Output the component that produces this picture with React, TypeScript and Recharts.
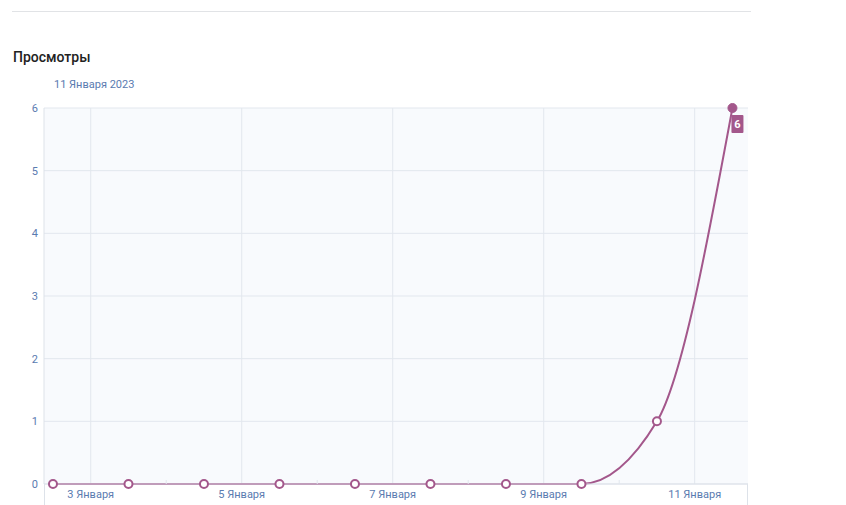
import React from 'react';
import { LineChart, Line, XAxis, YAxis, CartesianGrid } from 'recharts';

// days of January, each point sits at midday
const days = [2, 3, 4, 5, 6, 7, 8, 9, 10, 11];
const views = [0, 0, 0, 0, 0, 0, 0, 0, 1, 6];
const xTicks = [3, 4, 5, 6, 7, 8, 9, 10, 11];
const yTicks = [0, 1, 2, 3, 4, 5, 6];
const monthLabel = 'Января';

const data = days.map((d, i) => ({ day: d + 0.5, views: views[i] }));

const LINE = '#a3578b';
const TEXT_BLUE = '#5a7bb0';
const GRID = '#e2e7ee';
const FONT = 'Roboto, "Noto Sans", sans-serif';

const XTick = (props: any) => {
  const { x, y, payload } = props;
  const v = payload.value;
  if (v % 2 === 0) {
    return <line x1={x} x2={x} y1={y - 4} y2={y} stroke={GRID} />;
  }
  return (
    <text x={x} y={y + 14} textAnchor="middle" fill={TEXT_BLUE} fontSize={11} fontFamily={FONT}>
      {v} {monthLabel}
    </text>
  );
};

const Dot = (props: any) => {
  const { cx, cy, index } = props;
  if (index === data.length - 1) {
    return <circle key={index} cx={cx} cy={cy} r={4.5} fill={LINE} stroke={LINE} />;
  }
  return <circle key={index} cx={cx} cy={cy} r={4} fill="#fff" stroke={LINE} strokeWidth={2} />;
};

const LastLabel = (props: any) => {
  const { x, y, index, value } = props;
  if (index !== data.length - 1) return null;
  return (
    <g>
      <rect x={x - 1} y={y + 7} width={12} height={18} rx={1} fill={LINE} />
      <text x={x + 5} y={y + 20} textAnchor="middle" fill="#fff" fontSize={11} fontWeight={700} fontFamily={FONT}>
        {value}
      </text>
    </g>
  );
};

export default function App() {
  return (
    <div style={{ position: 'absolute', left: 0, top: 0, width: 846, height: 505, background: '#fff', fontFamily: FONT }}>
      <div style={{ position: 'absolute', left: 12, top: 11, width: 739, height: 1, background: '#e1e3e6' }} />
      <div style={{ position: 'absolute', left: 13, top: 49, fontSize: 14, fontWeight: 500, color: '#222' }}>Просмотры</div>
      <div style={{ position: 'absolute', left: 54, top: 78, fontSize: 11, color: TEXT_BLUE }}>11 {monthLabel} 2023</div>
      <div style={{ position: 'absolute', left: 44, top: 484, width: 1, height: 21, background: '#dde2e9' }} />
      <div style={{ position: 'absolute', left: 747, top: 108, width: 1, height: 397, background: '#dde2e9' }} />
      <div style={{ position: 'absolute', left: 0, top: 0 }}>
        <LineChart width={846} height={505} data={data} margin={{ top: 108, right: 98, bottom: 0, left: 0 }}>
          <CartesianGrid
            stroke={GRID}
            fill="#f8fafd"
            verticalValues={[3, 5, 7, 9, 11]}
          />
          <XAxis
            dataKey="day"
            type="number"
            domain={[2.381, 11.706]}
            ticks={xTicks}
            allowDataOverflow
            tick={<XTick />}
            tickLine={false}
            tickSize={0}
            tickMargin={0}
            axisLine={{ stroke: '#dde2e9' }}
            height={21}
            interval={0}
          />
          <YAxis
            type="number"
            domain={[0, 6]}
            ticks={yTicks}
            width={44}
            tickLine={false}
            tickSize={6}
            tickMargin={0}
            axisLine={{ stroke: '#dde2e9' }}
            tick={{ fill: TEXT_BLUE, fontSize: 11, fontFamily: FONT }}
          />
          <Line
            type="monotone"
            dataKey="views"
            stroke={LINE}
            strokeWidth={2}
            dot={<Dot />}
            activeDot={false}
            label={<LastLabel />}
            isAnimationActive={false}
          />
        </LineChart>
      </div>
    </div>
  );
}
